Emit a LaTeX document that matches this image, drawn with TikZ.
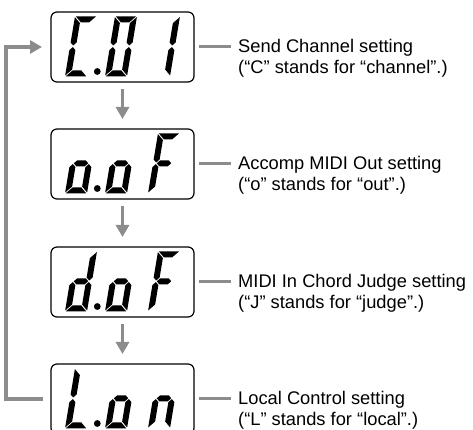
\documentclass[tikz,border=0pt]{standalone}
\usepackage{fontspec}
\setmainfont{Liberation Sans}
\usetikzlibrary{arrows.meta}
\definecolor{lgray}{RGB}{140,140,140}
\newcommand\lcdA{\fill (0.8,60) -- (21.2,60) -- (15.2,54) -- (6.8,54) -- cycle;}
\newcommand\lcdB{\fill (22,59.2) -- (22,33.8) -- (19,30.8) -- (16,33.8) -- (16,53.2) -- cycle;}
\newcommand\lcdC{\fill (22,0.8) -- (22,26.2) -- (19,29.2) -- (16,26.2) -- (16,6.8) -- cycle;}
\newcommand\lcdD{\fill (0.8,0) -- (21.2,0) -- (15.2,6) -- (6.8,6) -- cycle;}
\newcommand\lcdE{\fill (0,0.8) -- (0,26.2) -- (3,29.2) -- (6,26.2) -- (6,6.8) -- cycle;}
\newcommand\lcdF{\fill (0,59.2) -- (0,33.8) -- (3,30.8) -- (6,33.8) -- (6,53.2) -- cycle;}
\newcommand\lcdG{\fill (3.8,30) -- (6.8,33) -- (15.2,33) -- (18.2,30) -- (15.2,27) -- (6.8,27) -- cycle;}
\newcommand\lcddigit[3]{\begin{scope}[shift={(#1,#2)},xslant=0.167]#3\end{scope}}
\newcommand\lcdrow[4]{%
  \lcddigit{65}{#1}{#2}%
  \fill (97.3,#1+4.8) circle (3.4);%
  \lcddigit{105}{#1}{#3}%
  \lcddigit{148}{#1}{#4}}
\begin{document}
\begin{tikzpicture}[x=1pt,y=1pt,
  lcdbox/.style={draw=black,line width=1.2pt,rounded corners=6pt,minimum width=143pt,minimum height=70pt,inner sep=0pt,outer sep=0pt},
  arr/.style={draw=lgray,line width=3.3pt,-{Triangle[length=12pt,width=13pt]}},
  conn/.style={draw=lgray,line width=3pt},
  lab/.style={anchor=base west,align=left,inner sep=0pt,font=\fontsize{18.3}{21.5}\selectfont}]
\useasboundingbox (0,0) rectangle (473,430);
\begin{scope}
\clip (0,0) rectangle (473,430);
\node[lcdbox] (b1) at (122.5,383) {};
\node[lcdbox] (b2) at (122.5,266) {};
\node[lcdbox] (b3) at (122.5,148) {};
\node[lcdbox] (b4) at (122.5,31) {};
\end{scope}
% digits
\lcdrow{353.7}{\lcdA\lcdF\lcdE\lcdD}{\lcdA\lcdB\lcdC\lcdD\lcdE\lcdF}{\lcdB\lcdC}
\lcdrow{236.7}{\lcdC\lcdD\lcdE\lcdG}{\lcdC\lcdD\lcdE\lcdG}{\lcdA\lcdF\lcdE\lcdG}
\lcdrow{118.7}{\lcdB\lcdC\lcdD\lcdE\lcdG}{\lcdC\lcdD\lcdE\lcdG}{\lcdA\lcdF\lcdE\lcdG}
\lcdrow{1.7}{\lcdF\lcdE\lcdD}{\lcdC\lcdD\lcdE\lcdG}{\lcdC\lcdE\lcdG}
% down arrows
\draw[arr] ([yshift=-7pt]b1.south) -- ([yshift=10pt]b2.north);
\draw[arr] ([yshift=-7pt]b2.south) -- ([yshift=10pt]b3.north);
\draw[arr] ([yshift=-7pt]b3.south) -- ([yshift=10pt]b4.north);
% loop back
\coordinate (lp) at (14,0);
\draw[arr] ([xshift=-8pt]b4.west) -- ([xshift=-8pt]b4.west -| lp) |- ([xshift=-9pt]b1.west);
% labels
\foreach \i/\ta/\tb in {1/Send Channel setting/(“C” stands for “channel”.),
  2/Accomp MIDI Out setting/(“o” stands for “out”.),
  3/MIDI In Chord Judge setting/(“J” stands for “judge”.),
  4/Local Control setting/(“L” stands for “local”.)}{
  \coordinate (e\i) at ([xshift=37pt]b\i.east);
  \draw[conn] ([xshift=5pt]b\i.east) -- (e\i);
  \node[lab] (l\i) at ([xshift=7pt,yshift=-27pt]e\i) {\ta\\\tb};
}
\end{tikzpicture}
\end{document}
